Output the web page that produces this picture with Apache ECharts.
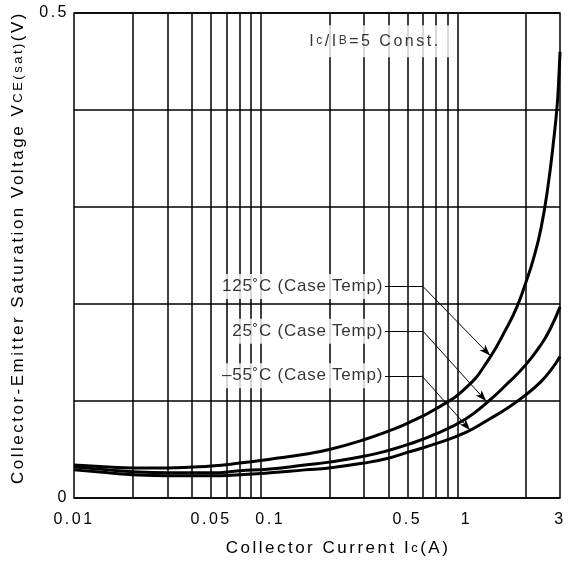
<!DOCTYPE html>
<html>
<head>
<meta charset="utf-8">
<script src="https://cdn.jsdelivr.net/npm/echarts@6/dist/echarts.min.js"></script>
<style>
html,body{margin:0;padding:0;background:#fff;}
#chart{width:568px;height:566px;}
</style>
</head>
<body>
<div id="chart"></div>
<script>
// Letter-spacing support: a font family marker like 'LS2.5' sets canvas letterSpacing (px)
(function () {
  var P = window.CanvasRenderingContext2D && CanvasRenderingContext2D.prototype;
  if (!P) return;
  var d = Object.getOwnPropertyDescriptor(P, 'font');
  if (!d || !('letterSpacing' in P)) return;
  Object.defineProperty(P, 'font', {
    configurable: true,
    enumerable: d.enumerable,
    get: function () { return d.get.call(this); },
    set: function (v) {
      d.set.call(this, v);
      var m = /LS([\d.]+)/.exec(v);
      this.letterSpacing = m ? m[1] + 'px' : '0px';
    }
  });
})();

// ---------- data ----------
const xGridValues = [0.02, 0.03, 0.04, 0.05, 0.06, 0.07, 0.08, 0.09, 0.2, 0.3, 0.4, 0.5, 0.6, 0.7, 0.8, 0.9, 2];
const xTickValues = [0.01, 0.05, 0.1, 0.5, 1, 3];
const xTickLabels = ['0.01', '0.05', '0.1', '0.5', '1', '3'];
const yTickValues = [0, 0.5];
const yTickLabels = ['0', '0.5'];

const x125 = [0.01, 0.015, 0.02, 0.03, 0.05, 0.07, 0.1, 0.15, 0.2, 0.3, 0.4, 0.5, 0.7, 1, 1.3, 1.6, 1.8, 2, 2.2, 2.4, 2.6, 2.8, 2.9, 2.95, 3];
const v125 = [0.034, 0.032, 0.031, 0.031, 0.033, 0.036, 0.040, 0.045, 0.050, 0.060, 0.069, 0.077, 0.092, 0.114, 0.143, 0.175, 0.196, 0.221, 0.247, 0.278, 0.320, 0.373, 0.404, 0.428, 0.460];

const x25 = [0.01, 0.015, 0.02, 0.03, 0.05, 0.07, 0.1, 0.15, 0.2, 0.3, 0.4, 0.5, 0.7, 1, 1.3, 1.6, 2, 2.4, 2.7, 3];
const v25 = [0.032, 0.029, 0.027, 0.026, 0.026, 0.028, 0.030, 0.034, 0.037, 0.043, 0.049, 0.055, 0.066, 0.082, 0.100, 0.117, 0.137, 0.158, 0.176, 0.197];

const xm55 = [0.01, 0.015, 0.02, 0.03, 0.05, 0.07, 0.1, 0.15, 0.2, 0.3, 0.4, 0.5, 0.7, 1, 1.3, 1.6, 2, 2.4, 2.7, 3];
const vm55 = [0.029, 0.026, 0.024, 0.023, 0.023, 0.024, 0.026, 0.029, 0.031, 0.036, 0.041, 0.047, 0.056, 0.068, 0.081, 0.092, 0.106, 0.120, 0.132, 0.146];

const tempLabels = ['125˚C (Case Temp)', '25˚C (Case Temp)', '–55˚C (Case Temp)'];
const labelAnchor = [[0.385, 0.218], [0.385, 0.172], [0.385, 0.126]];
const leaderKnee = [[0.601, 0.218], [0.601, 0.172], [0.593, 0.126]];
const leaderTip = [[1.32, 0.147], [1.26, 0.100], [1.043, 0.070]];

const noteText = 'I{s|c}/I{s|B}=5 Const.';
const notePos = [0.346, 0.471];

const xTitle = 'Collector Current I{s|c}(A)';
const yTitle = 'Collector-Emitter Saturation Voltage V{s|CE(sat)}(V)';

// ---------- style ----------
const SP = "'LS2.5', 'Liberation Sans', Arial, sans-serif";
const LB = "'LS0.75', 'Liberation Sans', Arial, sans-serif";
const INK = '#000';

function zip(xs, ys) { return xs.map((x, i) => [x, ys[i]]); }
function lookup(v, vals, labels) {
  for (let i = 0; i < vals.length; i++) {
    if (Math.abs(v - vals[i]) <= Math.abs(vals[i]) * 1e-6 + 1e-12) return labels[i];
  }
  return '';
}
const subRich = { s: { fontSize: 12, fontFamily: SP, color: INK } };
const subRich13 = { s: { fontSize: 13, fontFamily: SP, color: INK } };

const chart = echarts.init(document.getElementById('chart'), null, { renderer: 'canvas' });

const curveStyle = { color: INK, width: 3 };
function curve(name, xs, ys) {
  return {
    name: name, type: 'line', data: zip(xs, ys), smooth: 0.5,
    showSymbol: false, symbol: 'none', lineStyle: curveStyle, itemStyle: { color: INK },
    z: 3, silent: true
  };
}

const leaderData = [];
for (let i = 0; i < tempLabels.length; i++) {
  leaderData.push([{ coord: labelAnchor[i], symbol: 'none' }, { coord: leaderKnee[i], symbol: 'none' }]);
  leaderData.push([{ coord: leaderKnee[i], symbol: 'none' }, { coord: leaderTip[i], symbol: 'arrow', symbolSize: [6, 11] }]);
}

const textData = tempLabels.map((t, i) => ({ value: labelAnchor[i], name: t }));
textData.push({
  value: notePos, name: noteText,
  label: {
    position: 'inside', fontFamily: SP, fontSize: 16, lineHeight: 18,
    padding: [7, 9, 7, 7], rich: subRich
  }
});

chart.setOption({
  animation: false,
  backgroundColor: '#fff',
  grid: {
    left: 74, right: 8, top: 13, bottom: 68,
    show: true, borderColor: INK, borderWidth: 1.5, backgroundColor: 'transparent',
    containLabel: false, outerBoundsMode: 'none'
  },
  xAxis: {
    type: 'log', logBase: 10, min: 0.01, max: 3,
    axisLine: { show: false }, axisTick: { show: false },
    splitLine: { show: false }, minorTick: { show: false }, minorSplitLine: { show: false },
    axisLabel: {
      customValues: xTickValues,
      formatter: v => lookup(v, xTickValues, xTickLabels),
      margin: 12, color: INK, fontSize: 16, fontFamily: SP
    },
    name: xTitle, nameLocation: 'middle', nameGap: 40,
    nameTextStyle: { color: INK, fontSize: 17, fontFamily: SP, lineHeight: 20, padding: [0, 0, 0, 42], rich: subRich13 }
  },
  yAxis: {
    type: 'value', min: 0, max: 0.5, interval: 0.1,
    axisLine: { show: false }, axisTick: { show: false },
    splitLine: { show: true, lineStyle: { color: INK, width: 1.5 } },
    axisLabel: {
      customValues: yTickValues,
      formatter: v => lookup(v, yTickValues, yTickLabels),
      margin: 5, color: INK, fontSize: 16, fontFamily: SP
    },
    name: yTitle, nameLocation: 'middle', nameGap: 38, nameRotate: 90,
    nameTextStyle: { color: INK, fontSize: 17, fontFamily: SP, lineHeight: 20, padding: [0, 0, 0, 16], rich: subRich13 }
  },
  series: [
    {
      name: 'grid', type: 'line', data: [[0.01, 0]], showSymbol: false, symbol: 'none',
      lineStyle: { opacity: 0 }, silent: true, z: 1,
      markLine: {
        silent: true, symbol: 'none', animation: false,
        label: { show: false },
        lineStyle: { color: INK, width: 1.5, type: 'solid' },
        emphasis: { disabled: true },
        data: xGridValues.map(v => ({ xAxis: v }))
      }
    },
    curve('125°C', x125, v125),
    curve('25°C', x25, v25),
    curve('-55°C', xm55, vm55),
    {
      name: 'leaders', type: 'line', data: [[0.01, 0]], showSymbol: false, symbol: 'none',
      lineStyle: { opacity: 0 }, silent: true, z: 4,
      markLine: {
        silent: true, animation: false,
        label: { show: false },
        lineStyle: { color: INK, width: 1, type: 'solid' },
        itemStyle: { color: INK },
        emphasis: { disabled: true },
        data: leaderData
      }
    },
    {
      name: 'texts', type: 'scatter', data: textData, symbolSize: 0, silent: true, z: 6,
      itemStyle: { color: 'transparent' },
      label: {
        show: true, position: 'left', distance: 0, formatter: '{b}',
        color: INK, fontSize: 17, fontFamily: LB, lineHeight: 19,
        backgroundColor: '#fff', padding: [3, 2, 3, 3]
      }
    }
  ]
});
</script>
</body>
</html>
